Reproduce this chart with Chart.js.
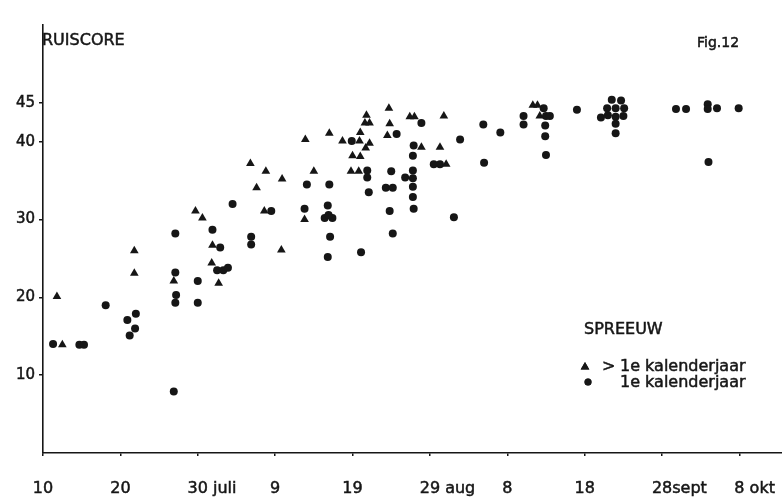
<!DOCTYPE html>
<html><head><meta charset="utf-8">
<script src="https://cdn.jsdelivr.net/npm/chart.js@4"></script>
<style>html,body{margin:0;padding:0;background:#fff;}canvas{display:block;}</style>
</head><body>
<canvas id="c" width="782" height="501"></canvas>
<script>
// x = days after 10 July
const xTickValues = [0,10,20,30,40,50,60,70,80,90];
const xTickLabels = ["10","20","30 juli","9","19","29 aug","8","18","28sept","8 okt"];
const yTickValues = [10,20,30,40,45];

// > 1e kalenderjaar (triangles)
const triX = [1.8,2.5,11.8,11.8,16.9,19.7,20.6,21.9,21.8,22.7,27.6,26.8,28.8,28.6,30.9,30.8,33.9,35.0,33.8,37.0,38.7,40.9,41.8,41.6,42.2,41.0,41.7,42.2,40.0,41.0,39.8,40.8,44.7,44.8,44.5,47.4,48.0,48.9,51.8,51.3,52.1,63.3,63.9,64.2];
const triY = [20.1,13.9,26.0,23.1,22.1,31.1,30.2,26.7,24.4,21.8,34.1,37.2,36.2,31.1,35.2,26.1,40.3,36.2,30.0,41.1,40.1,40.1,43.4,42.4,42.4,41.2,39.2,39.8,38.2,38.1,36.2,36.2,44.3,42.3,40.8,43.2,43.2,39.3,43.3,39.3,37.1,44.7,44.7,43.3];

// 1e kalenderjaar (dots)
const dotX = [1.3,4.7,5.3,8.1,10.9,12.0,11.2,11.9,17.1,17.1,17.2,17.1,16.9,20.0,20.0,21.9,22.9,22.5,23.3,23.9,24.5,26.9,26.9,29.5,34.1,33.8,37.0,36.8,36.4,37.4,37.1,36.8,39.9,41.9,41.9,42.1,41.1,45.7,45.0,44.3,45.2,44.8,45.2,48.9,47.9,47.8,47.8,46.8,47.8,47.8,47.8,47.9,50.5,51.3,53.1,53.9,56.9,59.1,57.0,62.1,62.1,64.7,65.0,65.5,64.9,64.9,65.0,69.0,73.5,74.7,72.9,74.0,75.1,72.1,73.0,74.0,75.0,74.0,74.0,81.8,83.1,85.9,85.9,87.1,89.9,86.0,36.9];
const dotY = [14.0,13.9,13.9,19.0,17.1,17.9,15.1,16.0,28.2,23.2,20.3,19.3,7.9,22.1,19.3,28.7,26.4,23.5,23.5,23.8,32.0,27.8,26.8,31.1,34.5,31.4,34.5,31.8,30.2,30.2,27.8,25.2,40.1,36.3,35.4,33.5,25.8,41.0,36.2,34.1,34.1,31.1,28.2,42.4,39.5,38.2,36.3,35.4,35.3,34.2,32.9,31.4,37.1,37.1,30.3,40.3,42.2,41.2,37.3,43.3,42.2,44.3,43.3,43.3,42.1,40.7,38.3,44.1,45.4,45.3,44.3,44.3,44.3,43.1,43.4,43.2,43.3,42.3,41.1,44.2,44.2,44.8,44.2,44.3,44.3,37.4,30.6];

const yTitle = "RUISCORE";
const figLabel = "Fig.12";
const legendTitle = "SPREEUW";
const seriesNames = [">1e kalenderjaar", "1e kalenderjaar"];

const INK = '#161616';
const FONT = "'DejaVu Sans', sans-serif";

const toPts = (xs, ys) => xs.map((x, i) => ({x: x, y: ys[i]}));

function drawMarker(ctx, style, r, x, y) {
  if (Chart.helpers && Chart.helpers.drawPoint) {
    Chart.helpers.drawPoint(ctx, {pointStyle: style, radius: r, rotation: 0, borderWidth: 0}, x, y);
    ctx.fill();
  } else {
    ctx.beginPath();
    ctx.arc(x, y, r, 0, Math.PI * 2);
    ctx.fill();
  }
}

function text(ctx, s, x, y) {
  ctx.fillText(s, x, y);
  ctx.strokeText(s, x, y);
}

const annotations = {
  id: 'annotations',
  afterDraw(chart) {
    const ctx = chart.ctx;
    const xs = chart.scales.x;
    ctx.save();
    ctx.fillStyle = INK;
    ctx.strokeStyle = INK;
    ctx.lineWidth = 0.5;
    ctx.textBaseline = 'middle';
    ctx.textAlign = 'left';
    // x tick labels: number centred on tick, month suffix trailing
    ctx.font = '16px ' + FONT;
    xTickValues.forEach((v, i) => {
      const lbl = xTickLabels[i];
      const m = lbl.match(/^\d+/);
      const num = m ? m[0] : lbl;
      const px = xs.getPixelForValue(v);
      const w = ctx.measureText(num).width;
      text(ctx, lbl, px - w / 2, 489);
    });
    // titles
    ctx.font = '16px ' + FONT;
    text(ctx, yTitle, 42, 41);
    ctx.font = '14px ' + FONT;
    text(ctx, figLabel, 697, 43);
    // legend
    ctx.font = '16px ' + FONT;
    text(ctx, legendTitle, 584, 330);
    text(ctx, '>', 602, 367);
    text(ctx, seriesNames[0].replace('>', ''), 620, 367);
    text(ctx, seriesNames[1], 620, 383);
    drawMarker(ctx, 'triangle', 5, 585, 367);
    drawMarker(ctx, 'circle', 3.5, 588, 382);
    ctx.restore();
  }
};

new Chart(document.getElementById('c'), {
  type: 'scatter',
  data: {
    datasets: [
      {label: seriesNames[0], data: toPts(triX, triY), pointStyle: 'triangle', pointRadius: 5, pointHoverRadius: 5,
       backgroundColor: INK, borderColor: INK, borderWidth: 0},
      {label: seriesNames[1], data: toPts(dotX, dotY), pointStyle: 'circle', pointRadius: 4, pointHoverRadius: 4,
       backgroundColor: INK, borderColor: INK, borderWidth: 0}
    ]
  },
  options: {
    responsive: false,
    animation: false,
    devicePixelRatio: 1,
    layout: {autoPadding: false, padding: {top: 25, right: 0, bottom: 0, left: 0}},
    plugins: {legend: {display: false}, tooltip: {enabled: false}},
    scales: {
      x: {
        type: 'linear', min: 0, max: 95.5,
        afterBuildTicks: s => { s.ticks = xTickValues.map(v => ({value: v})); },
        afterFit: s => { s.height = 48; },
        ticks: {display: false},
        grid: {drawOnChartArea: false, drawTicks: true, tickLength: 3, color: INK, lineWidth: 1.5},
        border: {display: true, color: INK, width: 1.6}
      },
      y: {
        type: 'linear', min: 0, max: 55,
        afterBuildTicks: s => { s.ticks = yTickValues.map(v => ({value: v})); },
        afterFit: s => { s.width = 43; },
        ticks: {color: INK, font: {family: FONT, size: 15}, padding: 4, textStrokeColor: INK, textStrokeWidth: 0.5},
        grid: {drawOnChartArea: false, drawTicks: true, tickLength: 4, color: INK, lineWidth: 1.5},
        border: {display: true, color: INK, width: 1.6}
      }
    }
  },
  plugins: [annotations]
});
</script>
</body></html>
